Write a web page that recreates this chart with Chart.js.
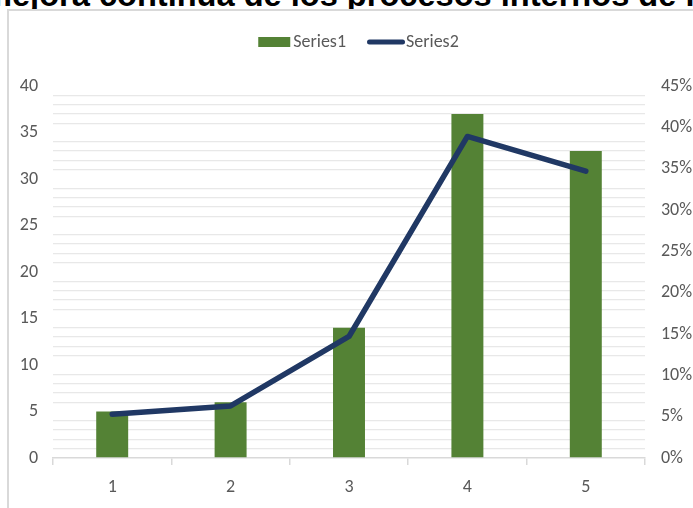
<!DOCTYPE html>
<html>
<head>
<meta charset="utf-8">
<script src="https://cdn.jsdelivr.net/npm/chart.js@4/dist/chart.umd.min.js"></script>
<style>
  html, body { margin: 0; padding: 0; width: 693px; height: 508px; overflow: hidden; background: #fff; }
  #heading {
    position: absolute; left: -17px; top: -22px; margin: 0; white-space: nowrap;
    font: bold 32.6px/33px 'Liberation Sans', Arial, sans-serif; color: #000;
  }
  #frame {
    position: absolute; left: 7px; top: 9px; width: 800px; height: 600px;
    border-top: 2px solid #d9d9d9; border-left: 2px solid #d9d9d9; background: #fff;
  }
  #wrap { position: absolute; left: 0; top: 0; width: 693px; height: 508px; }
</style>
</head>
<body>
<div id="heading">mejora continua de los procesos internos de la</div>
<div id="frame"></div>
<div id="wrap"><canvas id="chart"></canvas></div>
<script>
// Categories and series values
const categories = ['1', '2', '3', '4', '5'];
const seriesNames = ['Series1', 'Series2'];
const series1 = [5, 6, 14, 37, 33];            // bars, left axis
const series2 = [5.3, 6.3, 14.7, 38.9, 34.7];  // line, right axis (percent)

// Axis tick labels
const leftTickValues = [0, 5, 10, 15, 20, 25, 30, 35, 40];
const rightTickLabels = ['0%', '5%', '10%', '15%', '20%', '25%', '30%', '35%', '40%', '45%'];

const FONT = "Carlito, 'Liberation Sans Narrow', 'DejaVu Sans Condensed', sans-serif";
const TEXT = '#595959';
const GREEN = '#548235';
const NAVY = '#203864';

// Legend drawn in the Excel style: filled box for bars, thick stroke for the line
const legendPlugin = {
  id: 'excelLegend',
  afterDraw(chart) {
    const ctx = chart.ctx;
    const ds = chart.data.datasets;
    const bars = ds.find(d => d.type === 'bar');
    const line = ds.find(d => d.type === 'line');
    ctx.save();
    ctx.font = '18px ' + FONT;
    ctx.textBaseline = 'middle';
    const y = 42;
    const w1 = ctx.measureText(bars.label).width;
    const w2 = ctx.measureText(line.label).width;
    const total = 32 + 3 + w1 + 21 + 38 + 1 + w2;
    let x = chart.width / 2 + 12 - total / 2;
    ctx.fillStyle = bars.backgroundColor;
    ctx.fillRect(x, y - 5, 32, 10);
    x += 35;
    ctx.fillStyle = TEXT;
    ctx.fillText(bars.label, x, y);
    x += w1 + 21;
    ctx.strokeStyle = line.borderColor;
    ctx.lineWidth = 5;
    ctx.lineCap = 'round';
    ctx.beginPath();
    ctx.moveTo(x + 2.5, y);
    ctx.lineTo(x + 35.5, y);
    ctx.stroke();
    x += 39;
    ctx.fillStyle = TEXT;
    ctx.fillText(line.label, x, y);
    ctx.restore();
  }
};

new Chart(document.getElementById('chart'), {
  type: 'bar',
  data: {
    labels: categories,
    datasets: [
      {
        type: 'line',
        label: seriesNames[1],
        data: series2,
        yAxisID: 'y2',
        borderColor: NAVY,
        backgroundColor: NAVY,
        borderWidth: 5.5,
        borderCapStyle: 'round',
        borderJoinStyle: 'round',
        pointRadius: 0,
        pointHoverRadius: 0,
        tension: 0,
        order: 0
      },
      {
        type: 'bar',
        label: seriesNames[0],
        data: series1,
        yAxisID: 'y',
        backgroundColor: GREEN,
        categoryPercentage: 1,
        barPercentage: 0.27,
        order: 1
      }
    ]
  },
  options: {
    responsive: true,
    maintainAspectRatio: false,
    animation: false,
    layout: { padding: { top: 86, left: 0, right: 0, bottom: 0 } },
    plugins: {
      legend: { display: false },
      title: { display: false },
      tooltip: { enabled: false }
    },
    scales: {
      x: {
        type: 'category',
        offset: true,
        grid: {
          offset: true,
          drawOnChartArea: false,
          drawTicks: true,
          tickLength: 7,
          color: '#d9d9d9',
          lineWidth: 1.5
        },
        border: { display: true, color: '#d9d9d9', width: 1.5 },
        ticks: { color: TEXT, font: { family: FONT, size: 18 }, padding: 12 },
        afterFit(scale) { scale.height = 50; }
      },
      y: {
        position: 'left',
        min: 0,
        max: 40,
        ticks: {
          stepSize: 1,
          autoSkip: false,
          color: TEXT,
          font: { family: FONT, size: 18 },
          padding: 15,
          callback: (v) => leftTickValues.includes(v) ? String(v) : ''
        },
        grid: {
          drawTicks: false,
          lineWidth: 1.3,
          color: (c) => (c.tick && c.tick.value % 5 === 0) ? 'rgba(0,0,0,0)' : '#e8e8e8'
        },
        border: { display: false },
        afterFit(scale) { scale.width = 53; }
      },
      y2: {
        position: 'right',
        min: 0,
        max: 45,
        ticks: {
          stepSize: 5,
          color: TEXT,
          font: { family: FONT, size: 18 },
          padding: 16,
          callback: (v, i) => rightTickLabels[i]
        },
        grid: { drawOnChartArea: false, drawTicks: false },
        border: { display: false },
        afterFit(scale) { scale.width = 48; }
      }
    }
  },
  plugins: [legendPlugin]
});
</script>
</body>
</html>
